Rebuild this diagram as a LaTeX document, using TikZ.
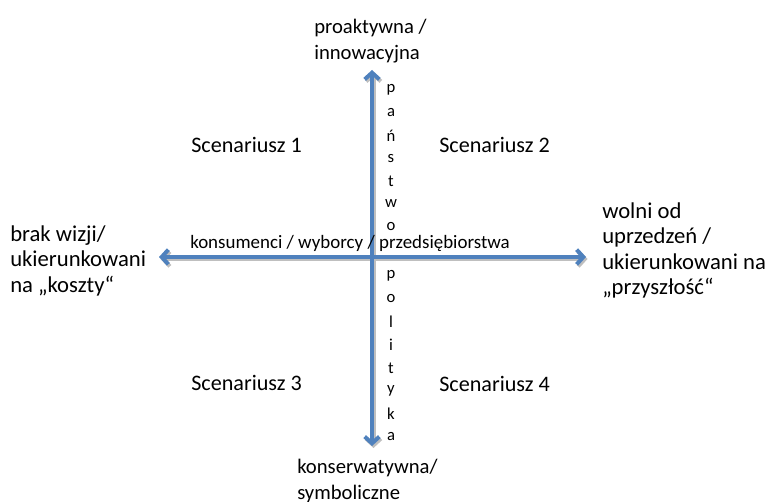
\documentclass[tikz,border=0pt]{standalone}
\usepackage{fontspec}
\setmainfont{Carlito}
\usetikzlibrary{arrows.meta}
\definecolor{axisblue}{HTML}{4F81BD}

\tikzset{
  axis/.style={axisblue,line width=3pt,{Straight Barb[length=5pt,width=11pt]}-{Straight Barb[length=5pt,width=11pt]}},
  axisshadow/.style={black!25,line width=3pt,{Straight Barb[length=5pt,width=11pt]}-{Straight Barb[length=5pt,width=11pt]}},
  pole/.style={inner sep=0pt,align=left,anchor=north west,font=\fontsize{15.5}{19.5}\selectfont},
  sidepole/.style={pole,font=\fontsize{17}{19.2}\selectfont},
  scen/.style={inner sep=0pt,anchor=west,font=\fontsize{16.6}{19}\selectfont},
  letter/.style={inner sep=0pt,font=\fontsize{12.5}{14}\selectfont}
}

\begin{document}
\begin{tikzpicture}[x=0.75pt,y=-0.75pt]
\useasboundingbox (0,0) rectangle (767,502);
% axis ends
\coordinate (top) at (372,70);
\coordinate (bottom) at (372,446);
\coordinate (left) at (159,257);
\coordinate (right) at (586,257);
% shadow, then axes
\draw[axisshadow] ([shift={(1.5,2)}]bottom) -- ([shift={(1.5,2)}]top);
\draw[axisshadow] ([shift={(1.5,2)}]left) -- ([shift={(1.5,2)}]right);
\draw[axis] (bottom) -- (top);
\draw[axis] (left) -- (right);
% poles
\node[pole] (proact) at (314,19) {proaktywna /\\innowacyjna};
\node[pole] (konserw) at (297,459) {konserwatywna/\\symboliczne};
\node[sidepole] (brak) at (10,225) {brak wizji/\\ukierunkowani\\na „koszty“};
\node[sidepole] (wolni) at (602,202) {wolni od\\uprzedzeń /\\ukierunkowani na\\„przyszłość“};
% scenarios
\node[scen] (sc1) at (191,145) {Scenariusz 1};
\node[scen] (sc2) at (439,145) {Scenariusz 2};
\node[scen] (sc3) at (191,383) {Scenariusz 3};
\node[scen] (sc4) at (439,384) {Scenariusz 4};
% axis labels
\node[scen,font=\fontsize{14.2}{16}\selectfont] (konsum) at (190,243) {konsumenci / wyborcy / przedsiębiorstwa};
\foreach \ch [count=\i] in {p,a,ń,s,t,w,o}
  \node[letter] (pan\i) at (391,{90+22.7*(\i-1)}) {\ch};
\foreach \ch [count=\i] in {p,o,l,i,t,y,k,a}
  \node[letter] (pol\i) at (391,{276+23*(\i-1)}) {\ch};
\end{tikzpicture}
\end{document}
